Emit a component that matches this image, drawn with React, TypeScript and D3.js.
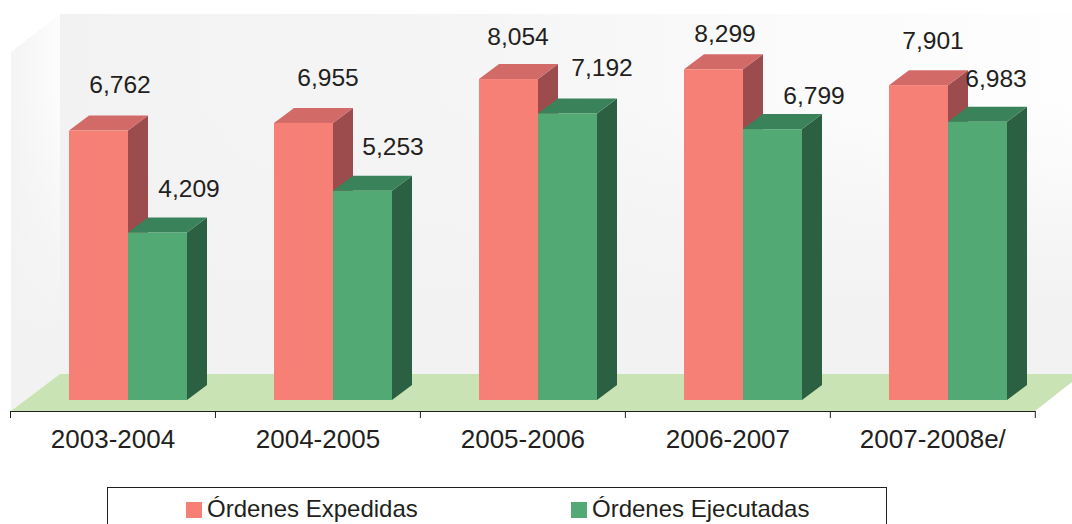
import React from "react";
import * as d3 from "d3";

const categories = ["2003-2004", "2004-2005", "2005-2006", "2006-2007", "2007-2008e/"];
const expedidas = [6762, 6955, 8054, 8299, 7901];
const ejecutadas = [4209, 5253, 7192, 6799, 6983];

const W = 1072, H = 524;
const y = d3.scaleLinear().domain([0, 8299]).range([400.4, 400.4 - 8299 * 0.0399]);
const x = d3.scaleBand<string>().domain(categories).range([10.5, 1035.3]);
const depthX = 20, depthY = 15, barW = 59;
const FONT = "Liberation Sans, Arial, sans-serif";

// hand placed data-label nudges, in pixels, relative to each bar
const expLabelDx = [0, 3, -12, -10, -7];
const expLabelDy = [-1, 0, 3, 10, 1];
const ejeLabelDx = [0, -1, 3, 10, -13];
const ejeLabelDy = [0, -1, -2, 10, 0];

const RED = { front: "#f68076", top: "#d26b68", side: "#9c4c4d" };
const GREEN = { front: "#52a973", top: "#3a8259", side: "#2c6043" };

function Bar({ x0, v, c }: { x0: number; v: number; c: typeof RED }) {
  const t = y(v), b = 400, r = x0 + barW;
  return (
    <g>
      <polygon fill={c.side} points={`${r},${t} ${r + depthX},${t - depthY} ${r + depthX},${b - depthY} ${r},${b}`} />
      <polygon fill={c.top} points={`${x0},${t} ${x0 + depthX},${t - depthY} ${r + depthX},${t - depthY} ${r},${t}`} />
      <rect x={x0} y={t} width={barW} height={b - t} fill={c.front} />
    </g>
  );
}

export default function App() {
  const ticks = [...categories.map((c) => x(c)!), x.range()[1]];
  return (
    <svg width={W} height={H} viewBox={`0 0 ${W} ${H}`} style={{ position: "absolute", left: 0, top: 0, display: "block" }}>
      <defs>
        <linearGradient id="back" x1="0" y1="0" x2="1" y2="0">
          <stop offset="0" stopColor="#f2f2f2" />
          <stop offset="0.4" stopColor="#f5f5f5" />
          <stop offset="0.7" stopColor="#fafafa" />
          <stop offset="1" stopColor="#fefefe" />
        </linearGradient>
        <linearGradient id="backV" x1="0" y1="0" x2="0" y2="1">
          <stop offset="0" stopColor="#f2f2f2" stopOpacity="0" />
          <stop offset="0.25" stopColor="#f2f2f2" stopOpacity="0" />
          <stop offset="0.8" stopColor="#f2f2f2" stopOpacity="1" />
          <stop offset="1" stopColor="#f2f2f2" stopOpacity="1" />
        </linearGradient>
        <linearGradient id="side" x1="0" y1="0" x2="1" y2="0">
          <stop offset="0" stopColor="#f4f4f4" />
          <stop offset="0.85" stopColor="#fbfbfb" />
          <stop offset="1" stopColor="#fdfdfd" />
        </linearGradient>
        <linearGradient id="sideV" x1="0" y1="0" x2="0" y2="1">
          <stop offset="0.2" stopColor="#f2f2f2" stopOpacity="0" />
          <stop offset="0.8" stopColor="#f2f2f2" stopOpacity="1" />
        </linearGradient>
      </defs>
      <polygon points="11,52 60,14 60,374 11,411" fill="url(#side)" />
      <polygon points="11,52 60,14 60,374 11,411" fill="url(#sideV)" />
      <rect x={60} y={14} width={1012} height={360} fill="url(#back)" />
      <rect x={60} y={14} width={1012} height={360} fill="url(#backV)" />
      <polygon points="60,374 1072,374 1072,382 1035,411 11,411" fill="#c9e3b5" />

      {categories.map((c, i) => {
        const x0 = Math.round(x(c)! + 58.5);
        return (
          <g key={c}>
            <Bar x0={x0} v={expedidas[i]} c={RED} />
            <Bar x0={x0 + barW} v={ejecutadas[i]} c={GREEN} />
            <text x={x0 + 51 + expLabelDx[i]} y={y(expedidas[i]) - 37 + expLabelDy[i]} textAnchor="middle" fontFamily={FONT} fontSize={24.6} fill="#231f20">
              {d3.format(",")(expedidas[i])}
            </text>
            <text x={x0 + 120 + ejeLabelDx[i]} y={y(ejecutadas[i]) - 35 + ejeLabelDy[i]} textAnchor="middle" fontFamily={FONT} fontSize={24.6} fill="#231f20">
              {d3.format(",")(ejecutadas[i])}
            </text>
            <text x={x(c)! + x.bandwidth() / 2} y={448} textAnchor="middle" fontFamily={FONT} fontSize={26} fill="#231f20">
              {c}
            </text>
          </g>
        );
      })}

      <line x1={10.5} x2={1035.5} y1={411.5} y2={411.5} stroke="#231f20" strokeWidth={1.2} />
      {ticks.map((t, i) => (
        <line key={i} x1={t} x2={t} y1={411} y2={418} stroke="#231f20" strokeWidth={1} />
      ))}

      <rect x={107.5} y={487.5} width={779} height={40} fill="none" stroke="#231f20" strokeWidth={1} />
      <rect x={186} y={502} width={16} height={16} fill={RED.front} />
      <text x={207} y={517} fontFamily={FONT} fontSize={24} fill="#231f20">Órdenes Expedidas</text>
      <rect x={571} y={502} width={16} height={16} fill={GREEN.front} />
      <text x={592} y={517} fontFamily={FONT} fontSize={24} fill="#231f20">Órdenes Ejecutadas</text>
    </svg>
  );
}
